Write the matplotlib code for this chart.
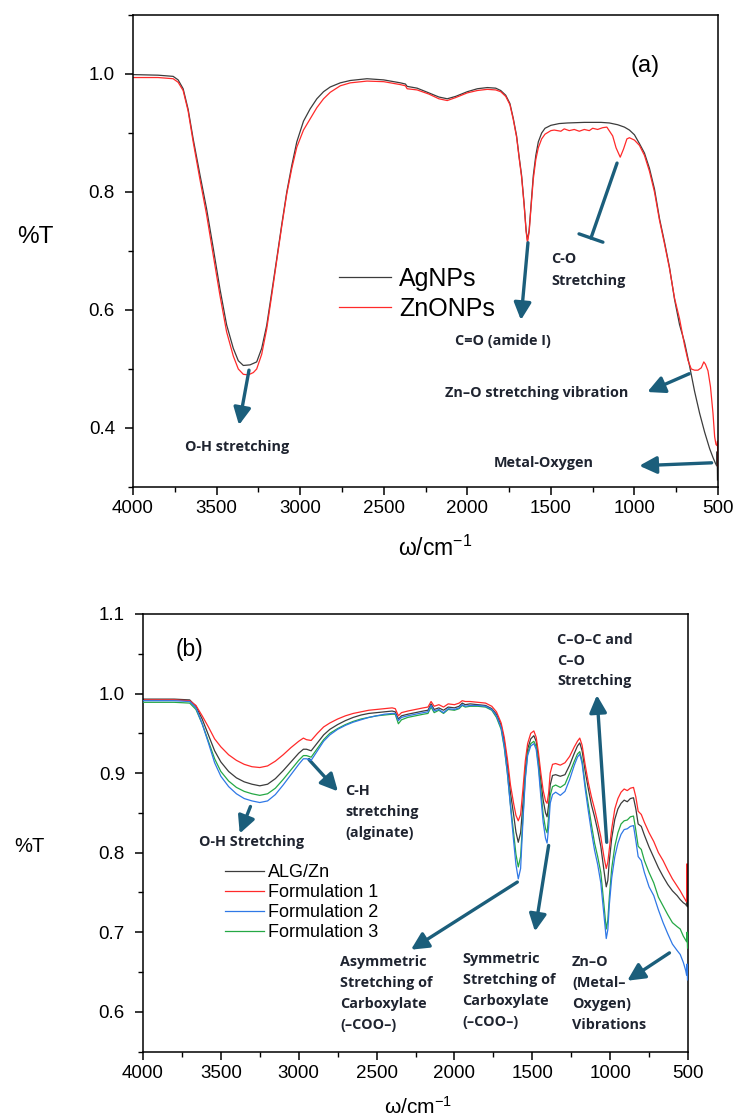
import matplotlib
matplotlib.use('Agg')
import matplotlib.pyplot as plt
from matplotlib.ticker import MultipleLocator

plt.rcParams['font.family'] = ['Liberation Sans', 'DejaVu Sans']
plt.rcParams['mathtext.fontset'] = 'custom'
plt.rcParams['mathtext.rm'] = 'Liberation Sans'
plt.rcParams['mathtext.it'] = 'Liberation Sans:italic'

# ---------------- (a) AgNPs vs ZnONPs ----------------
ag_wn = [4000, 3850, 3760, 3730, 3700, 3670, 3640, 3600, 3560, 3520, 3480, 3440, 3400,
         3370, 3340, 3300, 3260, 3230, 3200, 3170, 3140, 3110, 3080, 3050, 3020, 2980,
         2940, 2900, 2860, 2820, 2760, 2700, 2600, 2500, 2400, 2370, 2360, 2300, 2230,
         2170, 2120, 2070, 2000, 1940, 1880, 1830, 1800, 1770, 1745, 1725, 1705, 1690,
         1675, 1660, 1648, 1640, 1630, 1618, 1605, 1590, 1575, 1555, 1535, 1500, 1450,
         1400, 1300, 1200, 1150, 1100, 1060, 1030, 1000, 970, 940, 910, 880, 850, 820,
         790, 760, 730, 700, 670, 640, 610, 580, 550, 530, 515, 508, 505, 503]
ag_T = [0.999, 0.998, 0.996, 0.990, 0.975, 0.940, 0.890, 0.830, 0.772, 0.705, 0.636, 0.575,
        0.535, 0.514, 0.506, 0.507, 0.512, 0.535, 0.574, 0.630, 0.687, 0.745, 0.800, 0.845,
        0.885, 0.920, 0.941, 0.958, 0.970, 0.978, 0.985, 0.989, 0.992, 0.990, 0.985, 0.983,
        0.979, 0.976, 0.968, 0.961, 0.958, 0.962, 0.970, 0.975, 0.977, 0.976, 0.972, 0.964,
        0.950, 0.925, 0.895, 0.860, 0.828, 0.780, 0.735, 0.718, 0.735, 0.780, 0.828, 0.862,
        0.885, 0.900, 0.908, 0.913, 0.916, 0.917, 0.918, 0.918, 0.917, 0.914, 0.910, 0.905,
        0.897, 0.882, 0.866, 0.840, 0.805, 0.755, 0.715, 0.672, 0.618, 0.575, 0.545, 0.505,
        0.462, 0.425, 0.393, 0.365, 0.350, 0.340, 0.336, 0.360, 0.312]

zn_wn = [4000, 3850, 3760, 3730, 3700, 3670, 3640, 3600, 3560, 3520, 3480, 3440, 3400,
         3370, 3340, 3310, 3280, 3260, 3230, 3200, 3170, 3140, 3110, 3080, 3050, 3020,
         2980, 2940, 2900, 2860, 2820, 2760, 2700, 2600, 2500, 2400, 2370, 2360, 2300,
         2230, 2170, 2120, 2070, 2000, 1940, 1880, 1830, 1800, 1770, 1745, 1725, 1705,
         1690, 1675, 1660, 1648, 1640, 1630, 1618, 1605, 1590, 1575, 1555, 1535, 1500,
         1480, 1440, 1420, 1390, 1360, 1330, 1300, 1270, 1250, 1220, 1190, 1165, 1130,
         1110, 1085, 1065, 1045, 1030, 1000, 970, 940, 910, 880, 850, 820, 790, 760, 730,
         700, 680, 660, 640, 620, 600, 585, 575, 560, 545, 530, 520, 512, 505, 503, 501]
zn_T = [0.994, 0.994, 0.992, 0.986, 0.972, 0.937, 0.885, 0.822, 0.762, 0.693, 0.625, 0.563,
        0.522, 0.500, 0.491, 0.490, 0.494, 0.500, 0.525, 0.568, 0.625, 0.684, 0.742, 0.797,
        0.840, 0.876, 0.905, 0.924, 0.943, 0.958, 0.969, 0.980, 0.985, 0.988, 0.987, 0.982,
        0.980, 0.975, 0.973, 0.966, 0.958, 0.955, 0.960, 0.968, 0.972, 0.974, 0.973, 0.970,
        0.962, 0.948, 0.923, 0.893, 0.858, 0.825, 0.778, 0.733, 0.715, 0.732, 0.776, 0.822,
        0.855, 0.875, 0.890, 0.898, 0.904, 0.905, 0.903, 0.907, 0.904, 0.906, 0.903, 0.906,
        0.904, 0.908, 0.906, 0.909, 0.910, 0.895, 0.875, 0.859, 0.873, 0.890, 0.892, 0.888,
        0.879, 0.862, 0.835, 0.800, 0.752, 0.712, 0.670, 0.620, 0.585, 0.540, 0.515, 0.500,
        0.498, 0.498, 0.502, 0.512, 0.508, 0.497, 0.470, 0.425, 0.385, 0.372, 0.370, 0.378,
        0.335]

# ---------------- (b) alginate / Zn formulations ----------------
wn_b = [4000, 3900, 3800, 3700, 3660, 3620, 3580, 3540, 3500, 3450, 3400, 3350, 3300, 3250,
        3200, 3150, 3100, 3050, 3000, 2970, 2950, 2920, 2880, 2840, 2800, 2750, 2700, 2650,
        2600, 2550, 2500, 2450, 2400, 2380, 2360, 2340, 2300, 2250, 2200, 2170, 2150, 2130,
        2100, 2070, 2040, 2000, 1970, 1950, 1930, 1900, 1850, 1800, 1760, 1730, 1700, 1680,
        1660, 1640, 1620, 1605, 1590, 1575, 1560, 1545, 1530, 1510, 1490, 1475, 1460, 1445,
        1430, 1415, 1405, 1395, 1385, 1370, 1350, 1320, 1290, 1260, 1230, 1210, 1195, 1180,
        1160, 1140, 1120, 1100, 1080, 1060, 1040, 1025, 1015, 1005, 990, 970, 950, 930, 910,
        890, 870, 850, 835, 820, 800, 780, 750, 720, 690, 660, 630, 600, 570, 550, 530, 515,
        509, 506, 503]

alg_zn = [0.993, 0.993, 0.993, 0.992, 0.984, 0.968, 0.948, 0.928, 0.914, 0.902, 0.894, 0.889,
          0.886, 0.884, 0.886, 0.893, 0.903, 0.914, 0.925, 0.930, 0.930, 0.928, 0.938, 0.948,
          0.955, 0.961, 0.966, 0.970, 0.973, 0.975, 0.976, 0.977, 0.978, 0.977, 0.968, 0.972,
          0.974, 0.976, 0.978, 0.979, 0.987, 0.980, 0.982, 0.979, 0.983, 0.982, 0.984, 0.988,
          0.986, 0.987, 0.986, 0.985, 0.981, 0.974, 0.960, 0.940, 0.910, 0.875, 0.848, 0.826,
          0.813, 0.825, 0.862, 0.905, 0.930, 0.943, 0.947, 0.940, 0.918, 0.890, 0.866, 0.850,
          0.845, 0.860, 0.885, 0.897, 0.898, 0.896, 0.898, 0.910, 0.925, 0.934, 0.938, 0.928,
          0.902, 0.880, 0.860, 0.845, 0.828, 0.808, 0.778, 0.757, 0.765, 0.790, 0.818, 0.842,
          0.855, 0.862, 0.866, 0.864, 0.868, 0.869, 0.855, 0.836, 0.833, 0.822, 0.807, 0.794,
          0.781, 0.770, 0.760, 0.752, 0.746, 0.741, 0.737, 0.735, 0.733, 0.744, 0.732]
form_1 = [0.992, 0.992, 0.992, 0.991, 0.985, 0.972, 0.958, 0.943, 0.933, 0.923, 0.916, 0.911,
          0.908, 0.907, 0.909, 0.915, 0.923, 0.932, 0.940, 0.944, 0.942, 0.941, 0.950, 0.958,
          0.963, 0.968, 0.972, 0.975, 0.977, 0.979, 0.980, 0.981, 0.982, 0.981, 0.972, 0.976,
          0.978, 0.980, 0.982, 0.983, 0.990, 0.984, 0.986, 0.983, 0.987, 0.986, 0.988, 0.991,
          0.990, 0.990, 0.989, 0.988, 0.984, 0.977, 0.963, 0.945, 0.918, 0.885, 0.862, 0.847,
          0.840, 0.848, 0.880, 0.915, 0.937, 0.950, 0.953, 0.945, 0.925, 0.900, 0.878, 0.865,
          0.862, 0.875, 0.900, 0.911, 0.912, 0.910, 0.913, 0.921, 0.933, 0.940, 0.944, 0.935,
          0.910, 0.888, 0.870, 0.855, 0.838, 0.820, 0.795, 0.780, 0.788, 0.805, 0.830, 0.855,
          0.868, 0.876, 0.880, 0.878, 0.881, 0.882, 0.870, 0.852, 0.848, 0.838, 0.825, 0.814,
          0.800, 0.790, 0.778, 0.767, 0.758, 0.752, 0.745, 0.740, 0.738, 0.786, 0.742]
form_2 = [0.991, 0.991, 0.991, 0.990, 0.982, 0.962, 0.938, 0.913, 0.896, 0.883, 0.874, 0.868,
          0.865, 0.863, 0.865, 0.873, 0.885, 0.898, 0.911, 0.918, 0.918, 0.916, 0.928, 0.940,
          0.948, 0.955, 0.960, 0.964, 0.967, 0.970, 0.972, 0.974, 0.975, 0.975, 0.966, 0.970,
          0.972, 0.974, 0.976, 0.977, 0.985, 0.978, 0.980, 0.976, 0.981, 0.980, 0.982, 0.986,
          0.984, 0.985, 0.985, 0.984, 0.980, 0.972, 0.957, 0.934, 0.900, 0.858, 0.815, 0.785,
          0.767, 0.780, 0.840, 0.892, 0.922, 0.934, 0.937, 0.930, 0.905, 0.870, 0.838, 0.818,
          0.812, 0.832, 0.862, 0.873, 0.876, 0.872, 0.877, 0.892, 0.910, 0.920, 0.924, 0.912,
          0.880, 0.852, 0.826, 0.803, 0.785, 0.762, 0.722, 0.692, 0.703, 0.735, 0.768, 0.795,
          0.812, 0.823, 0.829, 0.830, 0.833, 0.834, 0.815, 0.795, 0.790, 0.775, 0.757, 0.746,
          0.728, 0.712, 0.698, 0.685, 0.677, 0.672, 0.662, 0.652, 0.646, 0.660, 0.640]
form_3 = [0.989, 0.989, 0.989, 0.988, 0.980, 0.962, 0.940, 0.918, 0.902, 0.890, 0.882, 0.877,
          0.874, 0.872, 0.874, 0.881, 0.892, 0.904, 0.916, 0.922, 0.922, 0.920, 0.931, 0.942,
          0.950, 0.956, 0.961, 0.965, 0.968, 0.970, 0.972, 0.973, 0.974, 0.974, 0.962, 0.967,
          0.970, 0.972, 0.974, 0.975, 0.983, 0.976, 0.979, 0.975, 0.980, 0.979, 0.981, 0.985,
          0.983, 0.984, 0.984, 0.983, 0.979, 0.970, 0.955, 0.932, 0.900, 0.860, 0.825, 0.798,
          0.782, 0.795, 0.845, 0.895, 0.925, 0.937, 0.940, 0.933, 0.910, 0.878, 0.848, 0.830,
          0.825, 0.845, 0.872, 0.883, 0.885, 0.882, 0.886, 0.900, 0.915, 0.924, 0.927, 0.915,
          0.885, 0.860, 0.835, 0.812, 0.795, 0.775, 0.735, 0.704, 0.715, 0.745, 0.780, 0.808,
          0.825, 0.836, 0.840, 0.841, 0.845, 0.846, 0.828, 0.808, 0.804, 0.790, 0.775, 0.762,
          0.744, 0.733, 0.722, 0.712, 0.707, 0.704, 0.695, 0.690, 0.688, 0.700, 0.680]

arrow_col = '#1b5e7b'
note_col = '#1f2430'


def arrow(ax, start, tip, head=True):
    style = '-|>' if head else '-[, widthB=0.35, lengthB=0'
    ax.annotate('', xy=tip, xytext=start,
                arrowprops=dict(arrowstyle=style, color=arrow_col, lw=2.4,
                                mutation_scale=26, shrinkA=0, shrinkB=0))


def note(ax, x, y, s, va='center', spacing=1.55):
    ax.text(x, y, s, ha='left', va=va, fontsize=10.4, fontweight='bold',
            family=['Open Sans', 'DejaVu Sans'], color=note_col, linespacing=spacing)


def style_axes(ax, ymin, ymax, ymaj, ymin_step):
    ax.set_xlim(4000, 500)
    ax.set_ylim(ymin, ymax)
    ax.xaxis.set_major_locator(MultipleLocator(500))
    ax.xaxis.set_minor_locator(MultipleLocator(250))
    ax.yaxis.set_major_locator(MultipleLocator(ymaj))
    ax.yaxis.set_minor_locator(MultipleLocator(ymin_step))
    ax.tick_params(which='major', direction='out', length=6, width=1.1, labelsize=13.5)
    ax.tick_params(axis='y', which='major', pad=7)
    ax.tick_params(which='minor', direction='out', length=3.5, width=1.0)
    for sp in ax.spines.values():
        sp.set_linewidth(1.1)


fig = plt.figure(figsize=(7.34, 11.19), dpi=100)

# panel (a)
ax1 = fig.add_axes([133 / 734, 1 - 487 / 1119, 585 / 734, 472 / 1119])
ax1.plot(ag_wn, ag_T, color='#3c3c3c', lw=0.9, label='AgNPs')
ax1.plot(zn_wn, zn_T, color='#ff2a2a', lw=0.9, label='ZnONPs')
style_axes(ax1, 0.3, 1.1, 0.2, 0.1)
ax1.yaxis.set_major_formatter(plt.FormatStrFormatter('%.1f'))
ax1.legend(loc='upper left', bbox_to_anchor=(0.352, 0.466), frameon=False, fontsize=18,
           handlelength=2.1, handletextpad=0.3, labelspacing=0.22, borderpad=0, borderaxespad=0)
ax1.text(938, 1.0136, '(a)', fontsize=17, ha='center', va='center')

arrow(ax1, (3306, 0.498), (3366, 0.405))
arrow(ax1, (1637, 0.714), (1679, 0.583))
arrow(ax1, (1104, 0.849), (1260, 0.722), head=False)
arrow(ax1, (672, 0.492), (923, 0.461))
arrow(ax1, (538, 0.341), (971, 0.336))

note(ax1, 3689, 0.367, 'O-H stretching')
note(ax1, 1496, 0.668, 'C-O\nStretching', spacing=1.7)
note(ax1, 2073, 0.547, 'C=O (amide I)')
note(ax1, 2133, 0.459, 'Zn\u2013O stretching vibration')
note(ax1, 1840, 0.341, 'Metal-Oxygen')

fig.text(35 / 734, 1 - 237 / 1119, '%T', fontsize=17.5, ha='center', va='center')
fig.text(435 / 734, 1 - 548 / 1119, '\u03c9/cm$^{-1}$', fontsize=16.5, ha='center', va='center')

# panel (b)
ax2 = fig.add_axes([143 / 734, 1 - 1051.5 / 1119, 545 / 734, 437.5 / 1119])
ax2.plot(wn_b, alg_zn, color='#3c3c3c', lw=0.9, label='ALG/Zn', zorder=2)
ax2.plot(wn_b, form_1, color='#ff2a2a', lw=0.9, label='Formulation 1', zorder=2)
ax2.plot(wn_b, form_2, color='#2f78e6', lw=0.9, label='Formulation 2', zorder=4)
ax2.plot(wn_b, form_3, color='#25a845', lw=0.9, label='Formulation 3', zorder=3)
style_axes(ax2, 0.55, 1.1, 0.1, 0.05)
ax2.yaxis.set_major_formatter(plt.FormatStrFormatter('%.1f'))
ax2.legend(loc='upper left', bbox_to_anchor=(0.150, 0.428), frameon=False, fontsize=13,
           handlelength=2.2, handletextpad=0.2, labelspacing=0.16, borderpad=0, borderaxespad=0)
ax2.text(3701, 1.055, '(b)', fontsize=16.5, ha='center', va='center')

arrow(ax2, (3310, 0.858), (3379, 0.824))
arrow(ax2, (2934, 0.917), (2748, 0.877))
arrow(ax2, (1596, 0.763), (2279, 0.678))
arrow(ax2, (1395, 0.809), (1483, 0.701))
arrow(ax2, (1022, 0.813), (1085, 0.998))
arrow(ax2, (619, 0.674), (890, 0.639))

note(ax2, 1341, 1.0414, 'C\u2013O\u2013C and\nC\u2013O\nStretching', spacing=1.62)
note(ax2, 2700, 0.851, 'C-H\nstretching\n(alginate)', spacing=1.62)
note(ax2, 3640, 0.813, 'O-H Stretching')
note(ax2, 2733, 0.6226, 'Asymmetric\nStretching of\nCarboxylate\n(\u2013COO\u2013)', spacing=1.65)
note(ax2, 1948, 0.627, 'Symmetric\nStretching of\nCarboxylate\n(\u2013COO\u2013)', spacing=1.65)
note(ax2, 1245, 0.6226, 'Zn\u2013O\n(Metal\u2013\nOxygen)\nVibrations', spacing=1.65)

fig.text(29 / 734, 1 - 847 / 1119, '%T', fontsize=14.5, ha='center', va='center')
fig.text(418 / 734, 1 - 1107 / 1119, '\u03c9/cm$^{-1}$', fontsize=15, ha='center', va='center')

fig.savefig('out.png', dpi=100)
